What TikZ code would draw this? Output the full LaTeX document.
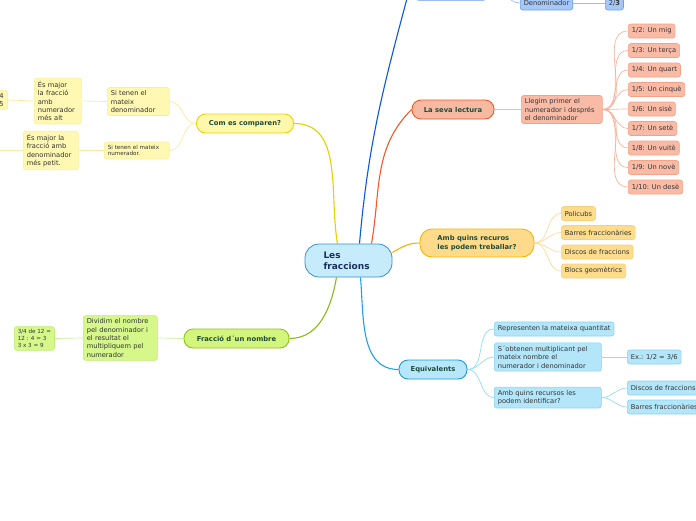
\documentclass[tikz,border=0pt]{standalone}
\usepackage{fontspec}
\setmainfont{DejaVu Sans}
\usepackage{xcolor}
\usepackage{tikz}
\usetikzlibrary{positioning,backgrounds}

% --- palette ---------------------------------------------------------------
\definecolor{rootfill}{HTML}{C6EBFB}\definecolor{rootdraw}{HTML}{3A8ED2}
\definecolor{roottext}{HTML}{1B2F5E}\definecolor{topictext}{HTML}{1E4B3B}
\definecolor{leaftext}{HTML}{333333}
\definecolor{comfill}{HTML}{FFF7AA}\definecolor{comdraw}{HTML}{EDD200}
\definecolor{comline}{HTML}{E8D000}\definecolor{comleaf}{HTML}{FFF8B2}
\definecolor{comedge}{HTML}{FCEE98}\definecolor{comtwig}{HTML}{FBEA9E}
\definecolor{lecfill}{HTML}{F8B9A3}\definecolor{lecdraw}{HTML}{EF5A2A}
\definecolor{lecline}{HTML}{F05A28}\definecolor{lecleaf}{HTML}{F9BBA6}
\definecolor{lecedge}{HTML}{F4A285}\definecolor{lectwig}{HTML}{F7B49C}
\definecolor{upfill}{HTML}{4D9AF0}\definecolor{updraw}{HTML}{1659D0}
\definecolor{upline}{HTML}{0A5BD0}\definecolor{upleaf}{HTML}{A5C8F9}
\definecolor{upedge}{HTML}{6E9EEB}\definecolor{uptwig}{HTML}{9DBDF5}
\definecolor{recfill}{HTML}{FDDB8A}\definecolor{recdraw}{HTML}{F8B500}
\definecolor{recline}{HTML}{F7B200}\definecolor{recleaf}{HTML}{FDDC8C}
\definecolor{recedge}{HTML}{FCD07A}\definecolor{rectwig}{HTML}{FDDC9A}
\definecolor{fracfill}{HTML}{D3F57C}\definecolor{fracdraw}{HTML}{8DC21F}
\definecolor{fracline}{HTML}{8AB81A}\definecolor{fracleaf}{HTML}{D6F88B}
\definecolor{fracedge}{HTML}{C0EB74}\definecolor{fractwig}{HTML}{CDEFA0}
\definecolor{eqfill}{HTML}{B6E7FA}\definecolor{eqdraw}{HTML}{1E9AD6}
\definecolor{eqline}{HTML}{1FA2E2}\definecolor{eqleaf}{HTML}{B4E6FA}
\definecolor{eqedge}{HTML}{86D3F5}\definecolor{eqtwig}{HTML}{94DBF7}

\newcommand\leaffont{\fontsize{6.7}{8.4}\selectfont}
\newcommand\smallleaf{\fontsize{5.6}{6.6}\selectfont}
\newcommand\topicfont{\fontsize{6.8}{8.4}\selectfont\bfseries}

\tikzset{
  % --- nodes -----------------------------------------------------------------
  hub/.style={draw=rootdraw,fill=rootfill,line width=0.8pt,rounded corners=14pt,
              minimum width=87pt,minimum height=33pt,text width=50pt,align=left,
              font=\fontsize{9}{11}\selectfont\bfseries,text=roottext},
  topic/.style={line width=0.9pt,rounded corners=9pt,minimum height=19pt,
                inner xsep=6pt,font=\topicfont,text=topictext},
  leaf/.style={line width=0.6pt,rounded corners=2.5pt,minimum height=14pt,
               inner xsep=3.5pt,inner ysep=3pt,anchor=west,align=left,
               font=\leaffont,text=leaftext},
  comleafs/.style={leaf,fill=comleaf,draw=comedge},
  lecleafs/.style={leaf,fill=lecleaf,draw=lecedge},
  upleafs/.style={leaf,fill=upleaf,draw=upedge},
  recleafs/.style={leaf,fill=recleaf,draw=recedge},
  fracleafs/.style={leaf,fill=fracleaf,draw=fracedge},
  eqleafs/.style={leaf,fill=eqleaf,draw=eqedge},
  % --- connectors ------------------------------------------------------------
  trunk/.style={line width=1.1pt},
  twig/.style={line width=0.7pt},
}

\begin{document}
\begin{tikzpicture}[x=1pt,y=-1pt]
  \useasboundingbox (0,0) rectangle (696,520);
  \clip (0,0) rectangle (696,520);

  \node[hub] (root) at (348.5,260.5) {Les\\fraccions};

  % main topics
  \node[topic,fill=comfill,draw=comdraw,minimum width=97pt]  (com)  at (245,123.5) {Com es comparen?};
  \node[topic,fill=lecfill,draw=lecdraw,minimum width=82pt]  (lec)  at (453,109.5) {La seva lectura};
  \node[topic,fill=upfill,draw=updraw,minimum width=82pt,minimum height=22pt] (up) at (451,-11) {};
  \node[topic,fill=recfill,draw=recdraw,minimum width=114pt,minimum height=28pt,
        rounded corners=12pt,align=left] (rec) at (477,243) {Amb quins recuros\\les podem treballar?};
  \node[topic,fill=fracfill,draw=fracdraw,minimum width=105pt] (frac) at (236.5,338.5) {Fracció d´un nombre};
  \node[topic,fill=eqfill,draw=eqdraw,minimum width=68pt]    (eq)   at (433,369.5) {Equivalents};

  % comparing
  \node[comleafs,text width=55pt] (sameden) at (107,101.5) {Si tenen el\\mateix\\denominador};
  \node[comleafs,text width=40pt] (bignum)  at (34,101)    {És major\\la fracció\\amb\\numerador\\més alt};
  \node[comleafs,anchor=east,minimum width=40pt,text width=32pt,align=right] (cutl) at (8,100) {4\\5};
  \node[comleafs,font=\smallleaf,text width=58pt] (samenum) at (104,150.5) {Si tenen el mateix\\numerador.};
  \node[comleafs,text width=48pt] (smallden) at (23,150.5) {És major la\\fracció amb\\denominador\\més petit.};
  \coordinate (offl) at (-30,150.5);

  % reading
  \node[lecleafs,text width=74pt] (read) at (521,109.5) {Llegim primer el\\numerador i després\\el denominador};
  \node[lecleafs] (f2)  at (628,31)    {1/2: Un mig};
  \node[lecleafs] (f3)  at (628,50.5)  {1/3: Un terça};
  \node[lecleafs] (f4)  at (628,70)    {1/4: Un quart};
  \node[lecleafs] (f5)  at (628,89.5)  {1/5: Un cinquè};
  \node[lecleafs] (f6)  at (628,109)   {1/6: Un sisè};
  \node[lecleafs] (f7)  at (628,128.5) {1/7: Un setè};
  \node[lecleafs] (f8)  at (628,148)   {1/8: Un vuitè};
  \node[lecleafs] (f9)  at (628,167.5) {1/9: Un novè};
  \node[lecleafs] (f10) at (628,187)   {1/10: Un desè};

  % top branch, mostly off the page
  \node[upleafs] (den) at (520,3)   {Denominador};
  \node[upleafs] (ex23) at (605,3)  {2/\textbf{3}};

  % resources
  \node[recleafs] (r1) at (561,213.5) {Policubs};
  \node[recleafs] (r2) at (561,232.5) {Barres fraccionàries};
  \node[recleafs] (r3) at (561,252)   {Discos de fraccions};
  \node[recleafs] (r4) at (561,271)   {Blocs geomètrics};

  % fraction of a number
  \node[fracleafs,text width=67pt] (divide) at (83,338) {Dividim el nombre\\pel denominador i\\el resultat el\\multipliquem pel\\numerador};
  \node[fracleafs,font=\smallleaf] (ex12) at (14,338.5) {3/4 de 12 =\\12 : 4 = 3\\3 x 3 = 9};

  % equivalents
  \node[eqleafs] (same)  at (494,329)   {Representen la mateixa quantitat};
  \node[eqleafs,text width=100pt] (mult)  at (494,357)   {S´obtenen multiplicant pel\\mateix nombre el\\numerador i denominador};
  \node[eqleafs] (ex36)  at (627,357)   {Ex.: 1/2 = 3/6};
  \node[eqleafs,text width=100pt] (ident) at (494,397.5) {Amb quins recursos les\\podem identificar?};
  \node[eqleafs] (disc)  at (627,388)   {Discos de fraccions};
  \node[eqleafs] (bars)  at (627,407)   {Barres fraccionàries};

  \begin{scope}[on background layer]
    \draw[trunk,comline]  (com.east) to[out=0,in=100] ([xshift=-11pt]root.north);
    \draw[trunk,upline]   ([xshift=11pt]root.north) to[out=85,in=-105] (up.west);
    \draw[trunk,lecline]  ([xshift=23pt]root.north) to[out=80,in=-135] (lec.west);
    \draw[trunk,recline]  ([yshift=8pt]root.east) to[out=30,in=180] (rec.west);
    \draw[trunk,fracline] ([xshift=-12pt]root.south) to[out=-100,in=0] (frac.east);
    \draw[trunk,eqline]   ([xshift=12pt]root.south) to[out=-85,in=180] (eq.west);

    \draw[twig,comtwig] (com.west) to[out=180,in=0] (sameden.east);
    \draw[twig,comtwig] (com.west) to[out=180,in=0] (samenum.east);
    \draw[twig,comtwig] (sameden.west) -- (bignum.east);
    \draw[twig,comtwig] (bignum.west) -- (cutl.east);
    \draw[twig,comtwig] (samenum.west) -- (smallden.east);
    \draw[twig,comtwig] (smallden.west) -- (offl);

    \draw[twig,lectwig] (lec.east) -- (read.west);
    \foreach \f in {f2,f3,f4,f5,f6,f7,f8,f9,f10}
      \draw[twig,lectwig] (read.east) to[out=0,in=180] (\f.west);

    \draw[twig,uptwig] (up.east) to[out=0,in=180] (den.west);
    \draw[twig,uptwig] (den.east) -- (ex23.west);

    \foreach \r in {r1,r2,r3,r4}
      \draw[twig,rectwig] (rec.east) to[out=0,in=180] (\r.west);

    \draw[twig,fractwig] (frac.west) -- (divide.east);
    \draw[twig,fractwig] (divide.west) -- (ex12.east);

    \draw[twig,eqtwig] (eq.east) to[out=0,in=180] (same.west);
    \draw[twig,eqtwig] (eq.east) to[out=0,in=180] (mult.west);
    \draw[twig,eqtwig] (eq.east) to[out=0,in=180] (ident.west);
    \draw[twig,eqtwig] (mult.east) -- (ex36.west);
    \draw[twig,eqtwig] (ident.east) to[out=0,in=180] (disc.west);
    \draw[twig,eqtwig] (ident.east) to[out=0,in=180] (bars.west);
  \end{scope}
\end{tikzpicture}
\end{document}
